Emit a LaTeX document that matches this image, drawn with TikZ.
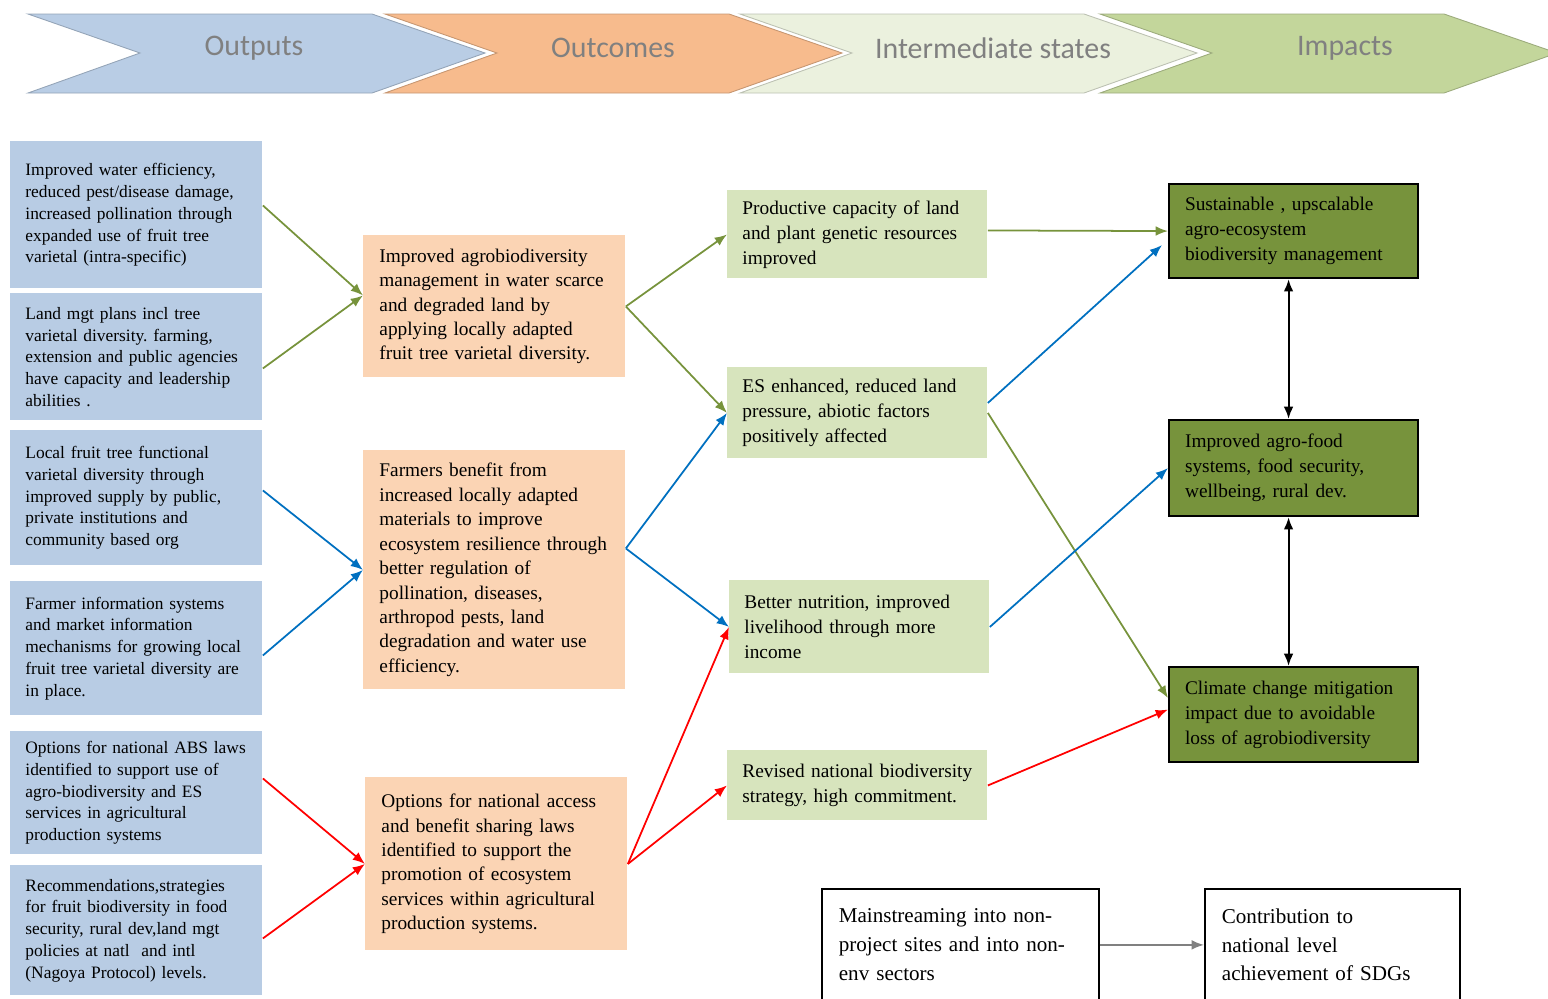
\documentclass[tikz,border=0pt]{standalone}
\usepackage{fontspec}
\setmainfont{Liberation Serif}
\newfontfamily\headfont{Carlito}
\usetikzlibrary{arrows.meta,positioning,calc}
\definecolor{outblue}{RGB}{184,204,228}
\definecolor{ocpeach}{RGB}{251,212,180}
\definecolor{midgreen}{RGB}{215,228,189}
\definecolor{impgreen}{RGB}{119,147,60}
\definecolor{arrblue}{RGB}{0,112,192}
\definecolor{arrred}{RGB}{255,0,0}
\definecolor{hdblue}{RGB}{185,205,229}
\definecolor{hdpeach}{RGB}{247,187,141}
\definecolor{hdpale}{RGB}{235,241,222}
\definecolor{hdgreen}{RGB}{195,214,155}
\frenchspacing
\tikzset{
    >={Latex[length=7pt,width=5.5pt]},
    every picture/.style={line width=0.5pt},
    outbox/.style={fill=outblue,anchor=north west,inner xsep=0.3cm,text width=4.44cm,
        align=left,font=\fontsize{9.9}{12.4}\selectfont},
    ocbox/.style={fill=ocpeach,anchor=north west,inner xsep=0.32cm,text width=4.6cm,
        align=left,font=\fontsize{11}{13.9}\selectfont},
    midbox/.style={fill=midgreen,anchor=north west,inner xsep=0.3cm,text width=4.6cm,
        align=left,font=\fontsize{11}{14.2}\selectfont},
    impbox/.style={fill=impgreen,draw=black,line width=1.2pt,anchor=north west,inner xsep=0.32cm,
        text width=4.34cm,align=left,font=\fontsize{11}{14.2}\selectfont},
    plainbox/.style={draw=black,line width=1pt,anchor=north west,inner xsep=0.34cm,
        align=left,minimum height=2.24cm,font=\fontsize{12}{16.4}\selectfont},
    link/.style={->,line width=1pt},
    headtext/.style={font=\headfont\fontsize{17}{20}\selectfont,text=black!50}
}
\begin{document}
\begin{tikzpicture}
    \useasboundingbox (0,0) rectangle (30.96,-19.96);

    % Header chevrons
    \foreach \l/\c in {0.56/hdblue,7.7/hdpeach,14.8/hdpale,22.0/hdgreen}
        \filldraw[fill=\c,draw=\c!80!black] (\l,-0.28) -- ++(6.88,0) -- ++(2.26,-0.78) -- ++(-2.26,-0.8)
            -- ++(-6.88,0) -- ++(2.24,0.8) -- cycle;
    \node[headtext] (hOut) at (5.08,-0.96) {Outputs};
    \node[headtext] (hOc) at (12.26,-0.96) {Outcomes};
    \node[headtext] (hMid) at (19.86,-0.96) {Intermediate states};
    \node[headtext] (hImp) at (26.9,-0.96) {Impacts};

    % Outputs
    \node[outbox,minimum height=2.94cm] (out1) at (0.2,-2.82) {Improved water efficiency,\\ reduced pest/disease damage,\\ increased pollination through\\ expanded use of fruit tree\\ varietal (intra-specific)};
    \node[outbox,minimum height=2.54cm] (out2) at (0.2,-5.86) {Land mgt plans incl tree\\ varietal diversity. farming,\\ extension and public agencies\\ have capacity and leadership\\ abilities .};
    \node[outbox,minimum height=2.7cm] (out3) at (0.2,-8.6) {Local fruit tree functional\\ varietal diversity through\\ improved supply by public,\\ private institutions and\\ community based org};
    \node[outbox,minimum height=2.68cm] (out4) at (0.2,-11.62) {Farmer information systems\\ and market information\\ mechanisms for growing local\\ fruit tree varietal diversity are\\ in place.};
    \node[outbox,minimum height=2.46cm] (out5) at (0.2,-14.62) {Options for national ABS laws\\ identified to support use of\\ agro-biodiversity and ES\\ services in agricultural\\ production systems};
    \node[outbox,minimum height=2.6cm] (out6) at (0.2,-17.3) {Recommendations,strategies\\ for fruit biodiversity in food\\ security, rural dev,land mgt\\ policies at natl\ \ and intl\\ (Nagoya Protocol) levels.};

    % Outcomes
    \node[ocbox,minimum height=2.84cm] (oc1) at (7.26,-4.7) {Improved agrobiodiversity\\ management in water scarce\\ and degraded land by\\ applying locally adapted\\ fruit tree varietal diversity.};
    \node[ocbox,minimum height=4.78cm] (oc2) at (7.26,-9.0) {Farmers benefit from\\ increased locally adapted\\ materials to improve\\ ecosystem resilience through\\ better regulation of\\ pollination, diseases,\\ arthropod pests, land\\ degradation and water use\\ efficiency.};
    \node[ocbox,minimum height=3.46cm] (oc3) at (7.3,-15.54) {Options for national access\\ and benefit sharing laws\\ identified to support the\\ promotion of ecosystem\\ services within agricultural\\ production systems.};

    % Intermediate states
    \node[midbox,minimum height=1.76cm] (mid1) at (14.54,-3.8) {Productive capacity of land\\ and plant genetic resources\\ improved};
    \node[midbox,minimum height=1.82cm] (mid2) at (14.54,-7.34) {ES enhanced, reduced land\\ pressure, abiotic factors\\ positively affected};
    \node[midbox,minimum height=1.86cm] (mid3) at (14.58,-11.6) {Better nutrition, improved\\ livelihood through more\\ income};
    \node[midbox,minimum height=1.4cm] (mid4) at (14.54,-15.0) {Revised national biodiversity\\ strategy, high commitment.};

    % Impacts
    \node[impbox,minimum height=1.88cm] (imp1) at (23.36,-3.66) {Sustainable , upscalable\\ agro-ecosystem\\ biodiversity management};
    \node[impbox,minimum height=1.92cm] (imp2) at (23.36,-8.38) {Improved agro-food\\ systems, food security,\\ wellbeing, rural dev.};
    \node[impbox,minimum height=1.9cm] (imp3) at (23.36,-13.32) {Climate change mitigation\\ impact due to avoidable\\ loss of agrobiodiversity};

    % Bottom boxes
    \node[plainbox,text width=4.86cm] (mains) at (16.42,-17.76) {Mainstreaming into non-\\ project sites and into non-\\ env sectors};
    \node[plainbox,text width=4.42cm] (sdg) at (24.08,-17.76) {Contribution to\\ national level\\ achievement of SDGs};

    % Green links
    \draw[link,impgreen] ([yshift=0.19cm]out1.east) -- ([yshift=0.22cm]oc1.west);
    \draw[link,impgreen] ([yshift=-0.23cm]out2.east) -- ([yshift=0.22cm]oc1.west);
    \draw[link,impgreen] (oc1.east) -- (mid1.west);
    \draw[link,impgreen] (oc1.east) -- (mid2.west);
    \draw[link,impgreen] ([yshift=0.08cm]mid1.east) -- (imp1.west);
    \draw[link,impgreen] (mid2.east) -- ([yshift=0.33cm]imp3.west);

    % Blue links
    \draw[link,arrblue] ([yshift=0.15cm]out3.east) -- (oc2.west);
    \draw[link,arrblue] ([yshift=-0.14cm]out4.east) -- (oc2.west);
    \draw[link,arrblue] ([yshift=0.43cm]oc2.east) -- (mid2.west);
    \draw[link,arrblue] ([yshift=0.43cm]oc2.east) -- (mid3.west);
    \draw[link,arrblue] ([yshift=0.2cm]mid2.east) -- ([yshift=-0.28cm,xshift=-0.12cm]imp1.west);
    \draw[link,arrblue] (mid3.east) -- (imp2.west);

    % Red links
    \draw[link,arrred] ([yshift=0.29cm]out5.east) -- (oc3.west);
    \draw[link,arrred] ([yshift=-0.16cm]out6.east) -- (oc3.west);
    \draw[link,arrred] (oc3.east) -- (mid3.west);
    \draw[link,arrred] (oc3.east) -- (mid4.west);
    \draw[link,arrred] (mid4.east) -- ([yshift=0.1cm]imp3.west);

    % Between impacts
    \draw[<->,line width=1.2pt] ([xshift=-0.1cm]imp1.south) -- ([xshift=-0.1cm]imp2.north);
    \draw[<->,line width=1.2pt] ([xshift=-0.1cm]imp2.south) -- ([xshift=-0.1cm]imp3.north);
    \draw[link,black!50] (mains.east) -- (sdg.west);
\end{tikzpicture}
\end{document}
